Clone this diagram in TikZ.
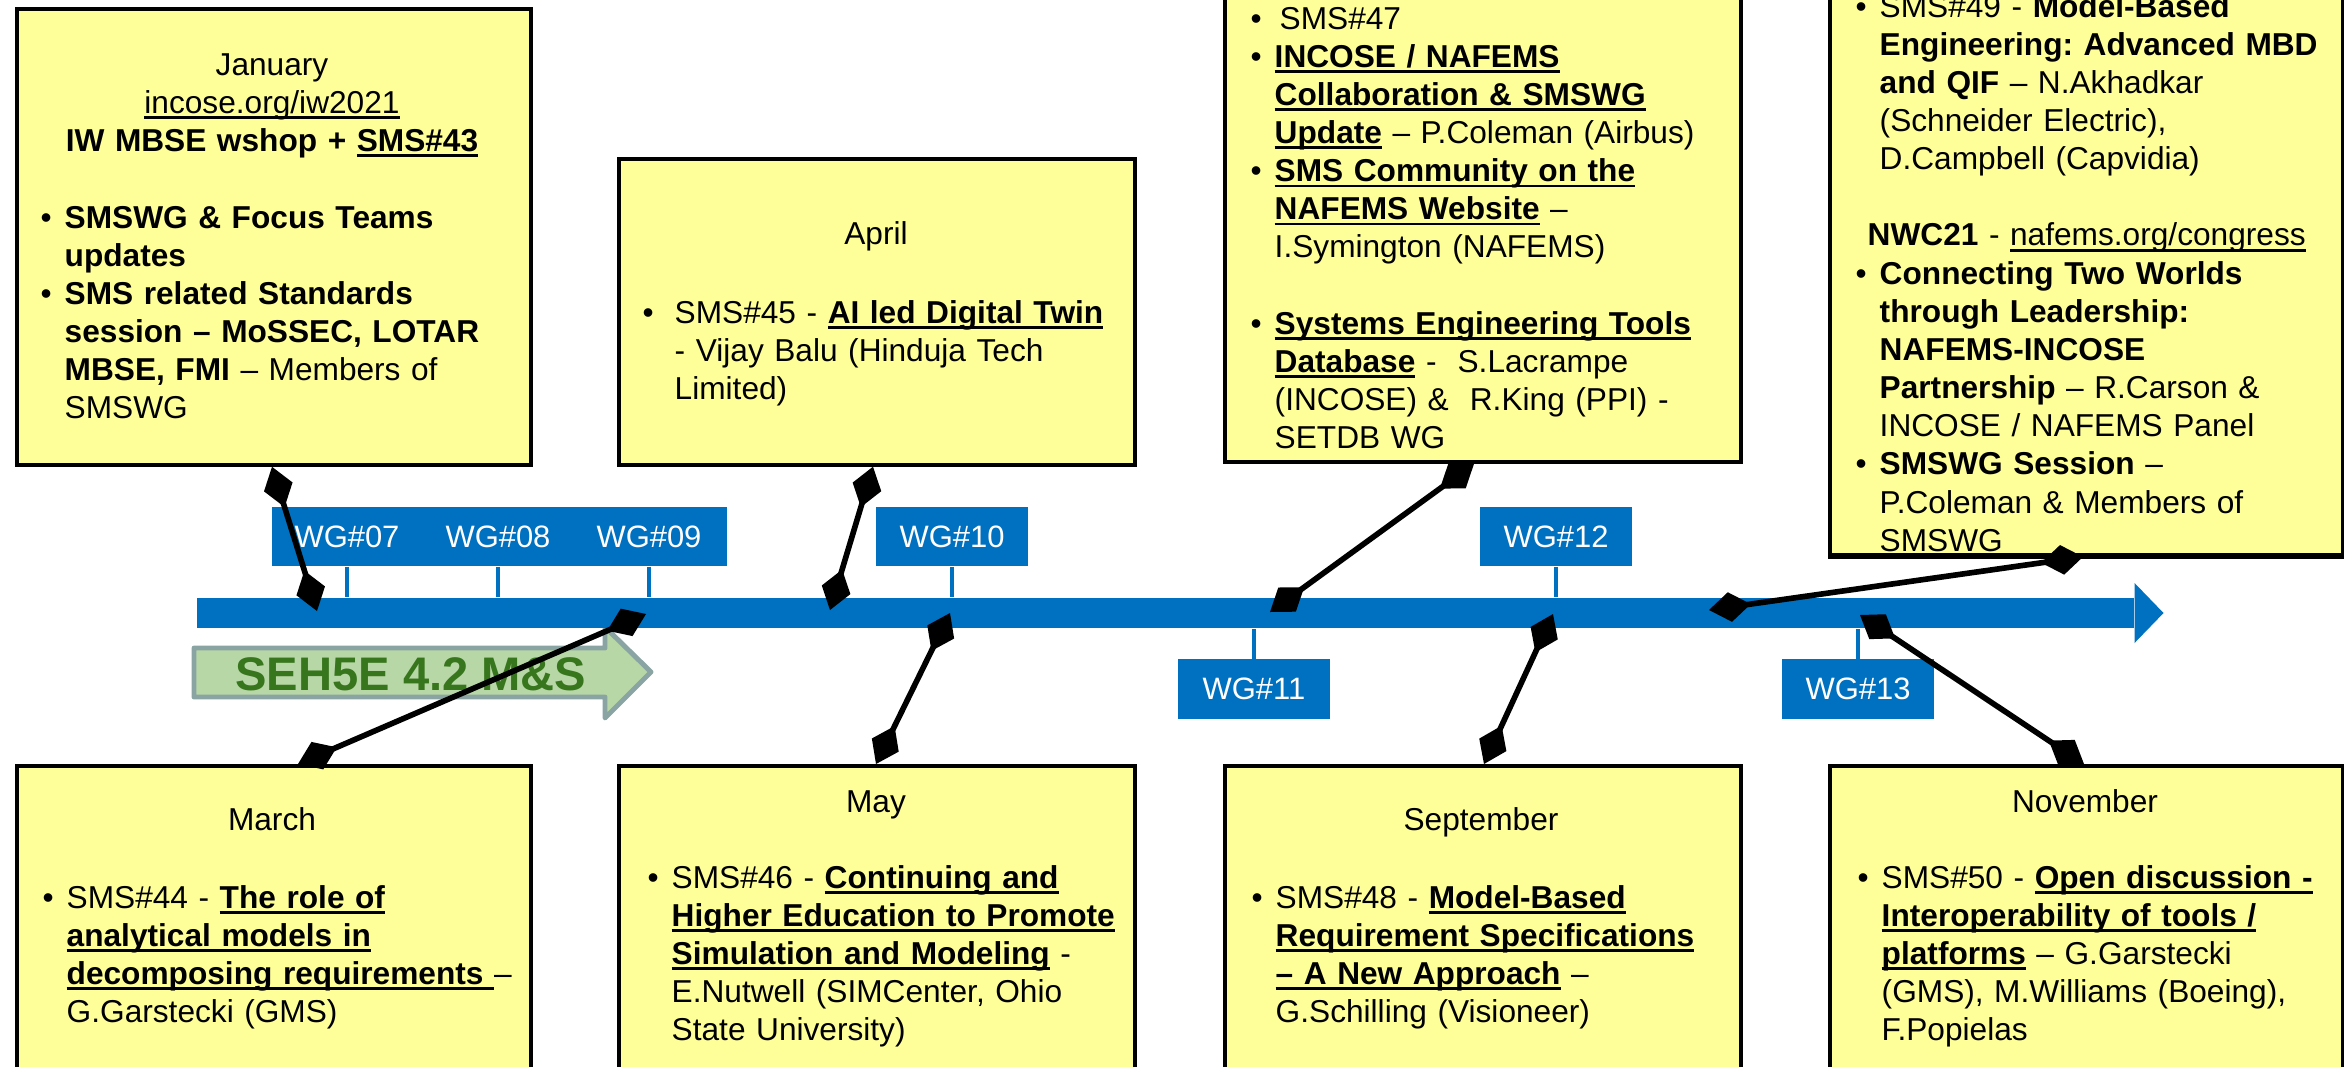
\documentclass[tikz,border=0pt]{standalone}
\usepackage{fontspec}
\setmainfont{Liberation Sans}
\usetikzlibrary{arrows.meta,calc}
\frenchspacing
\newsavebox{\ulbox}
\newcommand{\uln}[1]{\leavevmode\sbox{\ulbox}{#1}\rlap{\rule[-1.6pt]{\wd\ulbox}{0.75pt}}\usebox{\ulbox}}
\newlength{\bind}\setlength{\bind}{0.24cm}
\newcommand{\bu}{\makebox[\bind][l]{\textbullet}}
\newcommand{\cn}{\hspace*{\bind}}
\definecolor{noteyellow}{RGB}{255,255,153}
\definecolor{wgblue}{RGB}{0,112,192}
\definecolor{sehfill}{RGB}{183,215,166}
\definecolor{sehedge}{RGB}{138,163,163}
\definecolor{sehgreen}{RGB}{56,118,29}

\begin{document}
\begin{tikzpicture}[x=0.01cm,y=-0.01cm,font=\fontsize{9}{10.85}\selectfont]
\tikzstyle{box}=[draw=black,line width=1pt,fill=noteyellow,anchor=north west,inner sep=0pt]
\tikzstyle{head}=[anchor=base,text width=5cm,align=center,inner sep=0pt]
\tikzstyle{items}=[anchor=base west,text width=6cm,align=left,inner sep=0pt]
\tikzstyle{wg}=[text=white,font=\fontsize{8.8}{10}\selectfont,minimum height=0.59cm,inner sep=0pt]
\tikzstyle{wgbox}=[wg,fill=wgblue,minimum width=1.51cm]
\tikzstyle{tick}=[draw=wgblue,line width=1.1pt]
\tikzstyle{link}=[line width=1.6pt,{Diamond[length=12pt,width=8.5pt]}-{Diamond[length=12pt,width=8.5pt]}]

\useasboundingbox (0,0) rectangle (2344,1066);
\clip (0,0) rectangle (2344,1066);

% notes above the line
\node[box,minimum width=5.14cm,minimum height=4.56cm] (jan) at (15,7) {};
\node[box,minimum width=5.16cm,minimum height=3.06cm] (apr) at (617,157) {};
\node[box,minimum width=5.16cm,minimum height=5.2cm] (sepT) at (1223,-60) {};
\node[box,minimum width=5.13cm,minimum height=6.13cm] (novT) at (1828,-60) {};
% notes below the line
\node[box,minimum width=5.14cm,minimum height=4cm] (mar) at (15,764) {};
\node[box,minimum width=5.16cm,minimum height=4cm] (may) at (617,764) {};
\node[box,minimum width=5.16cm,minimum height=4cm] (sepB) at (1223,764) {};
\node[box,minimum width=5.13cm,minimum height=4cm] (novB) at (1828,764) {};

\node[head] (janH) at (272,75) {January\\ \uln{incose.org/iw2021}\\ \textbf{IW MBSE wshop + \uln{SMS\#43}}};
\node[items] (janL) at (40,228) {\bu\textbf{SMSWG \& Focus Teams}\\ \cn\textbf{updates}\\
  \bu\textbf{SMS related Standards}\\ \cn\textbf{session – MoSSEC, LOTAR}\\ \cn\textbf{MBSE, FMI} – Members of\\ \cn SMSWG};

\node[head] (aprH) at (876,244) {April};
\node[items] (aprL) at (642,323) {\setlength{\bind}{0.32cm}\bu SMS\#45 - \textbf{\uln{AI led Digital Twin}}\\
  \cn - Vijay Balu (Hinduja Tech\\ \cn Limited)};

\node[items] (sepTL) at (1250,29) {\bu\hspace{0.05cm}SMS\#47\\ \bu\textbf{\uln{INCOSE / NAFEMS}}\\
  \cn\textbf{\uln{Collaboration \& SMSWG}}\\ \cn\textbf{\uln{Update}} – P.Coleman (Airbus)\\
  \bu\textbf{\uln{SMS Community on the}}\\ \cn\textbf{\uln{NAFEMS Website}} –\\ \cn I.Symington (NAFEMS)\\[10.85pt]
  \bu\textbf{\uln{Systems Engineering Tools}}\\ \cn\textbf{\uln{Database}} - \ S.Lacrampe\\
  \cn(INCOSE) \& \ R.King (PPI) -\\ \cn SETDB WG};

\node[items] (novTL) at (1855,17) {\bu SMS\#49 - \textbf{Model-Based}\\ \cn\textbf{Engineering: Advanced MBD}\\
  \cn\textbf{and QIF} – N.Akhadkar\\ \cn(Schneider Electric),\\ \cn D.Campbell (Capvidia)\\[10.85pt]
  \hspace*{0.12cm}\textbf{NWC21} - \uln{nafems.org/congress}\\ \bu\textbf{Connecting Two Worlds}\\
  \cn\textbf{through Leadership:}\\ \cn\textbf{NAFEMS-INCOSE}\\ \cn\textbf{Partnership} – R.Carson \&\\
  \cn INCOSE / NAFEMS Panel\\ \bu\textbf{SMSWG Session} –\\ \cn P.Coleman \& Members of\\ \cn SMSWG};
\draw[line width=1pt] (novT.south west) -- (novT.south east);

\node[head] (marH) at (272,830) {March};
\node[items] (marL) at (42,908) {\bu SMS\#44 - \textbf{\uln{The role of}}\\ \cn\textbf{\uln{analytical models in}}\\
  \cn\textbf{\uln{decomposing requirements\ }}–\\ \cn G.Garstecki (GMS)};

\node[head] (mayH) at (876,812) {May};
\node[items] (mayL) at (647,888) {\bu SMS\#46 - \textbf{\uln{Continuing and}}\\ \cn\textbf{\uln{Higher Education to Promote}}\\
  \cn\textbf{\uln{Simulation and Modeling}} -\\ \cn E.Nutwell (SIMCenter, Ohio\\ \cn State University)};

\node[head] (sepH) at (1481,830) {September};
\node[items] (sepL) at (1251,908) {\bu SMS\#48 - \textbf{\uln{Model-Based}}\\ \cn\textbf{\uln{Requirement Specifications}}\\
  \cn\textbf{\uln{– A New Approach}} –\\ \cn G.Schilling (Visioneer)};

\node[head] (novH) at (2085,812) {November};
\node[items] (novL) at (1857,888) {\bu SMS\#50 - \textbf{\uln{Open discussion -}}\\ \cn\textbf{\uln{Interoperability of tools /}}\\
  \cn\textbf{\uln{platforms}} – G.Garstecki\\ \cn(GMS), M.Williams (Boeing),\\ \cn F.Popielas};

% SE handbook arrow
\draw[draw=sehedge,fill=sehfill,line width=1.4pt,line join=round] (194,648) -- (605,648) -- (605,627) -- (651,672)
  -- (605,718) -- (605,697) -- (194,697) -- cycle;
\node[anchor=base,text=sehgreen,font=\fontsize{13.4}{16}\selectfont\bfseries] (seh) at (411,690) {SEH5E 4.2 M\&S};

% time line
\node[fill=wgblue,minimum width=19.36cm,minimum height=0.3cm,inner sep=0pt,anchor=west] (bar) at (196,613) {};
\fill[wgblue] (bar.east) ++(0,-30) -- ++(29,30) -- ++(-29,30) -- cycle;

\node[wgbox,minimum width=4.55cm] (wgA) at (499.5,536.5) {};
\node[wg] (wg07) at (347,536.5) {WG\#07};
\node[wg] (wg08) at (498,536.5) {WG\#08};
\node[wg] (wg09) at (649,536.5) {WG\#09};
\node[wgbox] (wg10) at (952,536.5) {WG\#10};
\node[wgbox] (wg12) at (1556,536.5) {WG\#12};
\node[wgbox] (wg11) at (1254,689) {WG\#11};
\node[wgbox] (wg13) at (1858,689) {WG\#13};

\draw[tick] (wg07.south) -- (wg07.south |- bar.north);
\draw[tick] (wg08.south) -- (wg08.south |- bar.north);
\draw[tick] (wg09.south) -- (wg09.south |- bar.north);
\draw[tick] (wg10.south) -- (wg10.south |- bar.north);
\draw[tick] (wg12.south) -- (wg12.south |- bar.north);
\draw[tick] (wg11.north) -- (wg11.north |- bar.south);
\draw[tick] (wg13.north) -- (wg13.north |- bar.south);

% links from the notes to the line
\coordinate (tJan) at (317,611);
\coordinate (tApr) at (830,610);
\coordinate (tSepT) at (1270,612);
\coordinate (tNovT) at (1709,610);
\coordinate (tMar) at (646,614);
\coordinate (tMay) at (950,613);
\coordinate (tSepB) at (1553,614);
\coordinate (tNovB) at (1860,615);

\draw[link] ($(jan.south west)+(257,0)$) -- (tJan);
\draw[link] ($(apr.south west)+(256,0)$) -- (tApr);
\draw[link] ($(sepT.south west)+(251,0)$) -- (tSepT);
\draw[link] ($(novT.south west)+(255,0)$) -- (tNovT);
\draw[link] ($(mar.north west)+(283,0)$) -- (tMar);
\draw[link] ($(may.north west)+(259,0)$) -- (tMay);
\draw[link] ($(sepB.north west)+(261,0)$) -- (tSepB);
\draw[link] ($(novB.north west)+(256,0)$) -- (tNovB);
\end{tikzpicture}
\end{document}
